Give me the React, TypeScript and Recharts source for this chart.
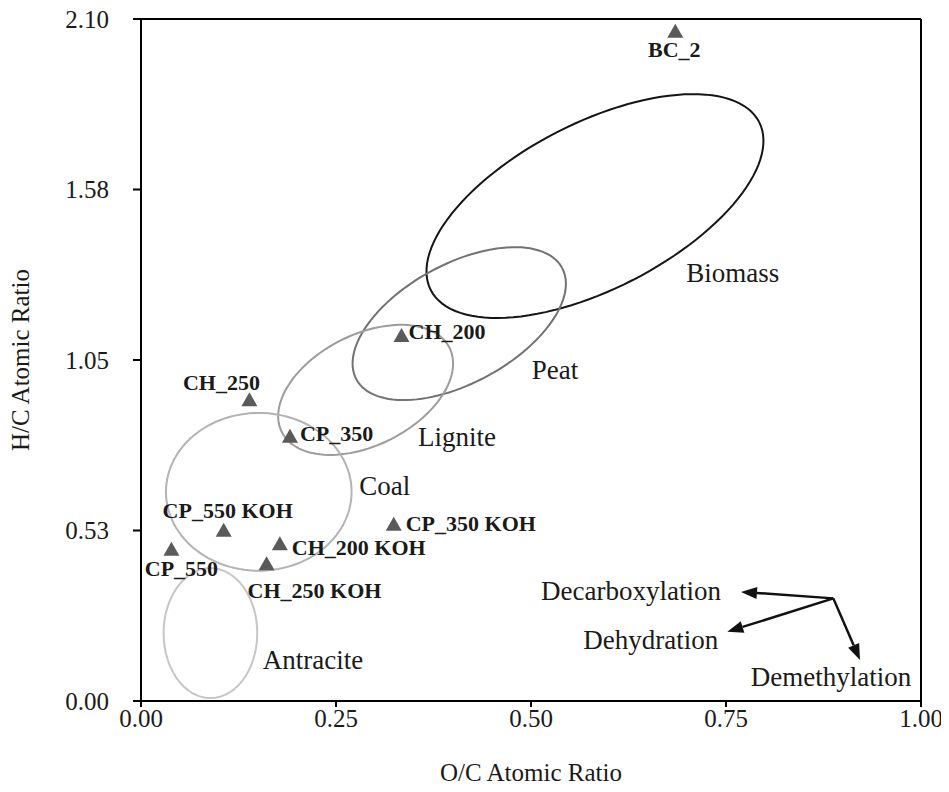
import { ScatterChart, Scatter, XAxis, YAxis, ReferenceLine } from 'recharts';

const FONT = "'Liberation Serif', 'Times New Roman', serif";

// samples: O/C vs H/C atomic ratios
const sampleNames = ['BC_2', 'CH_200', 'CH_250', 'CP_350', 'CP_550 KOH', 'CP_550', 'CH_200 KOH', 'CH_250 KOH', 'CP_350 KOH'];
const ocRatio = [0.685, 0.334, 0.139, 0.191, 0.106, 0.039, 0.178, 0.161, 0.324];
const hcRatio = [2.064, 1.127, 0.929, 0.817, 0.527, 0.469, 0.486, 0.424, 0.546];

// fuel regions, each an ellipse: centre plus two conjugate half-diameters (data units)
const regionNames = ['Biomass', 'Peat', 'Lignite', 'Coal', 'Antracite'];
const regionCx = [0.582, 0.408, 0.288, 0.151, 0.089];
const regionCy = [1.524, 1.162, 0.958, 0.644, 0.209];
const regionUx = [0.2105, 0.1318, 0.1075, 0.119, 0.06];
const regionUy = [0.2587, 0.1718, 0.1299, 0, 0];
const regionVx = [0.0485, 0.0364, 0.0319, 0, 0];
const regionVy = [-0.2277, -0.161, -0.1524, 0.243, 0.2];

// text annotations
const noteText = ['Biomass', 'Peat', 'Lignite', 'Coal', 'Antracite', 'Decarboxylation', 'Dehydration', 'Demethylation'];
const noteX = [0.7586, 0.5308, 0.4051, 0.3124, 0.2205, 0.6282, 0.6536, 0.8846];
const noteY = [1.3177, 1.019, 0.8128, 0.662, 0.1262, 0.3402, 0.1863, 0.0748];

// reaction pathway arrows, from a common origin
const arrowOrigin = { x: 0.8876, y: 0.316 };
const arrowTipX = [0.7692, 0.7517, 0.9218];
const arrowTipY = [0.336, 0.2133, 0.1262];

const xTicks = [0, 0.25, 0.5, 0.75, 1];
const xTickLabels = ['0.00', '0.25', '0.50', '0.75', '1.00'];
const yTicks = [0, 0.525, 1.05, 1.575, 2.1];
const yTickLabels = ['0.00', '0.53', '1.05', '1.58', '2.10'];

const regionStyle: Record<string, { stroke: string; width: number }> = {
  Biomass: { stroke: '#151515', width: 2 },
  Peat: { stroke: '#727272', width: 2 },
  Lignite: { stroke: '#9c9c9c', width: 2 },
  Coal: { stroke: '#b3b3b3', width: 2 },
  Antracite: { stroke: '#c6c6c6', width: 2 },
};

// where each sample label sits relative to its marker (px)
const labelPos: Record<string, { anchor: 'start' | 'middle'; dx: number; dy: number }> = {
  BC_2: { anchor: 'middle', dx: -1, dy: 19 },
  CH_200: { anchor: 'start', dx: 7, dy: -3 },
  CH_250: { anchor: 'middle', dx: -28, dy: -17 },
  CP_350: { anchor: 'start', dx: 10, dy: -2 },
  'CP_550 KOH': { anchor: 'middle', dx: 4, dy: -19 },
  CP_550: { anchor: 'middle', dx: 10, dy: 20 },
  'CH_200 KOH': { anchor: 'start', dx: 12, dy: 4 },
  'CH_250 KOH': { anchor: 'start', dx: -19, dy: 27 },
  'CP_350 KOH': { anchor: 'start', dx: 12, dy: 0 },
};

const samples = sampleNames.map((name, i) => ({ name, x: ocRatio[i], y: hcRatio[i] }));
const notes = noteText.map((text, i) => ({ text, x: noteX[i], y: noteY[i] }));

const ellipseOutline = (i: number) => {
  const pts = [];
  for (let k = 0; k <= 120; k++) {
    const t = (k / 120) * Math.PI * 2;
    pts.push({
      x: regionCx[i] + regionUx[i] * Math.cos(t) + regionVx[i] * Math.sin(t),
      y: regionCy[i] + regionUy[i] * Math.cos(t) + regionVy[i] * Math.sin(t),
    });
  }
  return pts;
};

const SampleMarker = (props: any) => {
  const { cx, cy, payload } = props;
  const pos = labelPos[payload.name];
  return (
    <g>
      <polygon points={`${cx},${cy - 7} ${cx - 8},${cy + 7} ${cx + 8},${cy + 7}`} fill="#5a5a5a" />
      <text
        x={cx + pos.dx}
        y={cy + pos.dy}
        textAnchor={pos.anchor}
        dominantBaseline="central"
        fontFamily={FONT}
        fontWeight="bold"
        fontSize={22}
        fill="#1a1a1a"
      >
        {payload.name}
      </text>
    </g>
  );
};

const NoteText = (props: any) => {
  const { cx, cy, payload } = props;
  return (
    <text x={cx} y={cy} textAnchor="middle" dominantBaseline="central" fontFamily={FONT} fontSize={27} fill="#1a1a1a">
      {payload.text}
    </text>
  );
};

const ArrowShape = (props: any) => {
  const { x1, y1, x2, y2 } = props;
  const dx = x2 - x1;
  const dy = y2 - y1;
  const len = Math.hypot(dx, dy) || 1;
  const ux = dx / len;
  const uy = dy / len;
  const L = 16;
  const W = 6;
  const bx = x2 - ux * L;
  const by = y2 - uy * L;
  return (
    <g>
      <line x1={x1} y1={y1} x2={bx} y2={by} stroke="#111" strokeWidth={2.5} />
      <polygon points={`${x2},${y2} ${bx - uy * W},${by + ux * W} ${bx + uy * W},${by - ux * W}`} fill="#111" />
    </g>
  );
};

const YTitle = (props: any) => {
  const { viewBox } = props;
  const cx = viewBox.x + 12;
  const cy = viewBox.y + viewBox.height / 2;
  return (
    <text x={cx} y={cy} transform={`rotate(-90 ${cx} ${cy})`} textAnchor="middle" dominantBaseline="central" fontFamily={FONT} fontSize={25} fill="#1a1a1a">
      H/C Atomic Ratio
    </text>
  );
};

const XTitle = (props: any) => {
  const { viewBox } = props;
  const cx = viewBox.x + viewBox.width / 2;
  const cy = viewBox.y + 71;
  return (
    <text x={cx} y={cy} textAnchor="middle" dominantBaseline="central" fontFamily={FONT} fontSize={25} fill="#1a1a1a">
      O/C Atomic Ratio
    </text>
  );
};

const tickStyle = { fontFamily: FONT, fontSize: 25, fill: '#1a1a1a' };

export default function App() {
  return (
    <ScatterChart width={941} height={776} margin={{ top: 11, right: 28, bottom: 3, left: 0 }}>
      <XAxis
        type="number"
        dataKey="x"
        domain={[0, 1]}
        ticks={xTicks}
        tickFormatter={(v: number) => xTickLabels[xTicks.indexOf(v)]}
        height={80}
        tickSize={6}
        tickMargin={2}
        axisLine={{ stroke: '#000', strokeWidth: 2 }}
        tickLine={{ stroke: '#000', strokeWidth: 2 }}
        tick={tickStyle}
        interval={0}
        label={<XTitle />}
      />
      <YAxis
        type="number"
        dataKey="y"
        domain={[0, 2.1]}
        ticks={yTicks}
        tickFormatter={(v: number) => yTickLabels[yTicks.indexOf(v)]}
        width={133}
        tickSize={8}
        tickMargin={24}
        axisLine={{ stroke: '#000', strokeWidth: 2 }}
        tickLine={{ stroke: '#000', strokeWidth: 2 }}
        tick={tickStyle}
        interval={0}
        label={<YTitle />}
      />
      <ReferenceLine y={2.1} stroke="#000" strokeWidth={2} />
      <ReferenceLine x={1} stroke="#000" strokeWidth={2} />

      {regionNames.map((name, i) => (
        <Scatter
          key={name}
          name={name}
          data={ellipseOutline(i)}
          line={{ stroke: regionStyle[name].stroke, strokeWidth: regionStyle[name].width }}
          shape={() => <g />}
          isAnimationActive={false}
        />
      ))}

      {arrowTipX.map((tx, i) => (
        <ReferenceLine
          key={`arrow-${i}`}
          segment={[arrowOrigin, { x: tx, y: arrowTipY[i] }]}
          shape={ArrowShape}
        />
      ))}

      <Scatter name="notes" data={notes} shape={NoteText} isAnimationActive={false} />
      <Scatter name="samples" data={samples} shape={SampleMarker} isAnimationActive={false} />
    </ScatterChart>
  );
}
